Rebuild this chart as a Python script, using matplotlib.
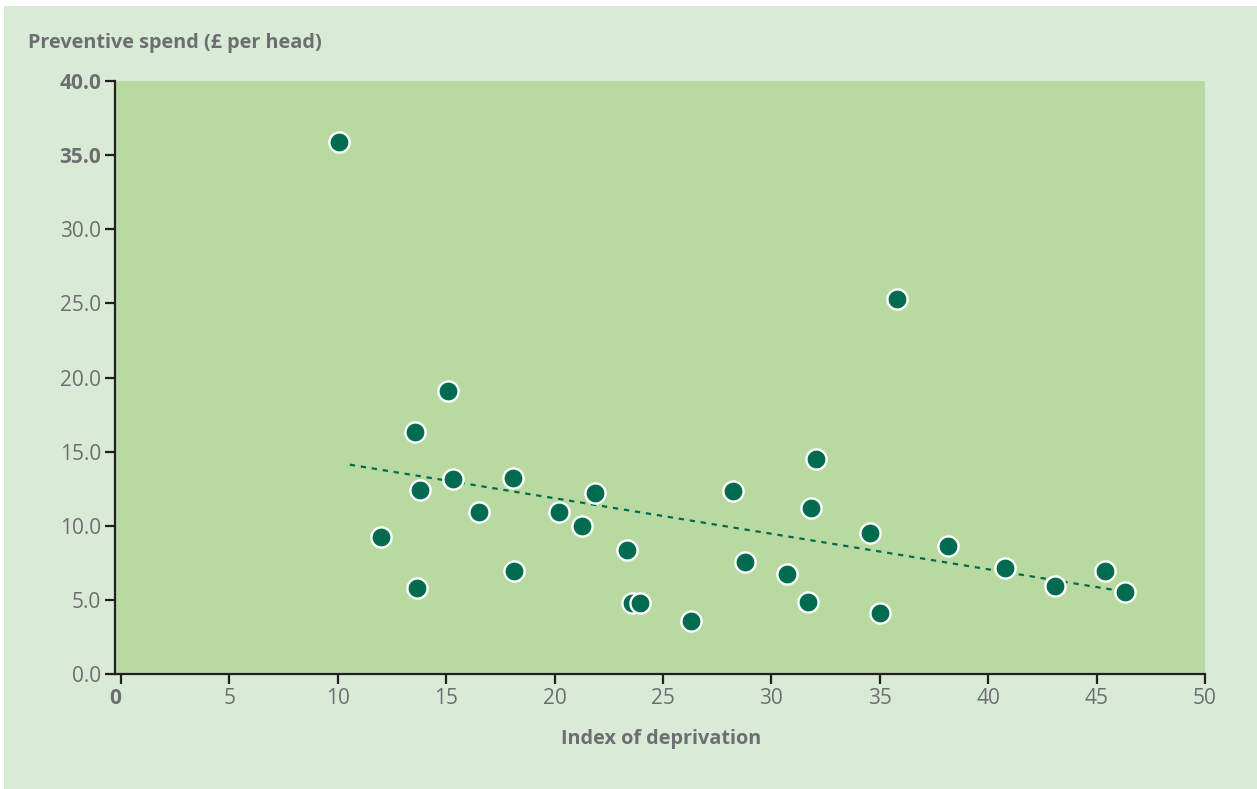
import matplotlib
matplotlib.use("Agg")
import matplotlib.pyplot as plt
from matplotlib.patches import Rectangle

# deprivation index vs preventive spend, one point per area
deprivation = [10.07, 11.98, 13.55, 13.67, 13.81, 15.07, 15.33, 16.51, 18.08, 18.11,
               20.20, 21.25, 21.85, 23.35, 23.58, 23.95, 26.29, 28.23, 28.80, 30.70,
               31.69, 31.84, 32.07, 34.53, 34.99, 35.78, 38.13, 40.77, 43.09, 45.40, 46.31]
spend = [35.87, 9.24, 16.32, 5.82, 12.39, 19.11, 13.13, 10.95, 13.22, 6.97,
         10.91, 10.0, 12.23, 8.39, 4.77, 4.77, 3.6, 12.32, 7.53, 6.77,
         4.86, 11.2, 14.48, 9.49, 4.09, 25.27, 8.63, 7.17, 5.94, 6.97, 5.55]
trend_x = [10.55, 46.31]
trend_y = [14.12, 5.55]

x_ticks = [0, 5, 10, 15, 20, 25, 30, 35, 40, 45, 50]
y_ticks = [0, 5, 10, 15, 20, 25, 30, 35, 40]

OUTER = "#d9ebd6"
INNER = "#b8daa1"
DOT = "#006b4e"
TEXT = "#6d6e71"
AXIS = "#231f20"

plt.rcParams["font.family"] = ["Open Sans", "DejaVu Sans"]

fig = plt.figure(figsize=(12.57, 7.89), dpi=100, facecolor="white")
fig.patches.append(Rectangle((4 / 1257, 0), 1, 783 / 789, transform=fig.transFigure,
                             facecolor=OUTER, edgecolor="none", zorder=-1))

ax = fig.add_axes([115 / 1257, 1 - 674 / 789, 1090 / 1257, 593 / 789])
ax.set_facecolor(INNER)

ax.plot(trend_x, trend_y, color=DOT, lw=1.6, ls=(0, (2.4, 2.6)), zorder=2)
ax.plot(deprivation, spend, "o", ms=14.5, mfc=DOT, mec="white", mew=1.7, zorder=3,
        clip_on=False)

# the original's x scale starts a few pixels left of zero
ax.set_xlim(-0.28, 50)
ax.set_ylim(0, 40)
ax.set_xticks(x_ticks)
ax.set_yticks(y_ticks)
ax.set_xticklabels([str(v) for v in x_ticks])
ax.set_yticklabels([f"{v:.1f}" for v in y_ticks])

for s in ["top", "right"]:
    ax.spines[s].set_visible(False)
for s in ["left", "bottom"]:
    ax.spines[s].set_color(AXIS)
    ax.spines[s].set_linewidth(1.6)

ax.tick_params(axis="both", colors=AXIS, width=1.6, length=7, labelsize=15,
               labelcolor=TEXT)
ax.tick_params(axis="x", pad=3)
ax.tick_params(axis="y", pad=3)

# top two y labels and the x origin come out bold in the original
for lab in ax.get_yticklabels()[-2:]:
    lab.set_fontweight("bold")
x0 = ax.get_xticklabels()[0]
x0.set_fontweight("bold")
x0.set_horizontalalignment("right")

fig.text(28 / 1257, 1 - 43 / 789, "Preventive spend (\u00a3 per head)", fontsize=14.3,
         fontweight="bold", color=TEXT, ha="left", va="center")
fig.text(661 / 1257, 1 - 739 / 789, "Index of deprivation", fontsize=14.3,
         fontweight="bold", color=TEXT, ha="center", va="center")

fig.savefig("out.png", dpi=100, facecolor="white")
